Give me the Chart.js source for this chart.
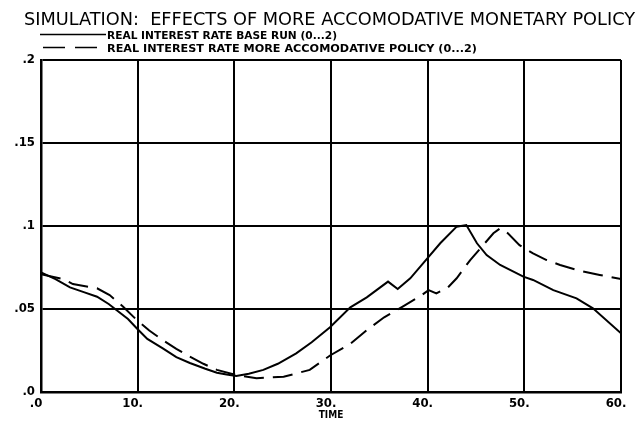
<!DOCTYPE html>
<html>
<head>
<meta charset="utf-8">
<script src="https://cdn.jsdelivr.net/npm/chart.js@4.4.1/dist/chart.umd.min.js"></script>
<style>
  html, body { margin: 0; padding: 0; background: #fff; }
  #wrap { width: 643px; height: 425px; position: relative; }
</style>
</head>
<body>
<div id="wrap"><canvas id="c"></canvas></div>
<script>
// ---- data ----
const chartTitle = 'SIMULATION:  EFFECTS OF MORE ACCOMODATIVE MONETARY POLICY';
const seriesNames = [
  'REAL INTEREST RATE BASE RUN (0...2)',
  'REAL INTEREST RATE MORE ACCOMODATIVE POLICY (0...2)'
];
const xAxisTitle = 'TIME';
const xTickLabels = ['.0', '10.', '20.', '30.', '40.', '50.', '60.'];
const yTickLabels = ['.0', '.05', '.1', '.15', '.2'];

const timeBase = [0, 1.5, 3, 4.5, 5.8, 7, 7.8, 9, 9.9, 11, 12.6, 14, 15.4, 17, 18.2, 19.2, 20.2, 21.5, 23, 24.5, 26.4, 28, 29.9, 32, 33.7, 35.9, 36.9, 38.2, 39.9, 41.3, 43, 44, 45.1, 46.1, 47.5, 49.9, 50.9, 53, 55.4, 57.1, 60];
const rateBase = [0.072, 0.068, 0.063, 0.060, 0.0574, 0.053, 0.0494, 0.044, 0.0384, 0.032, 0.0263, 0.021, 0.0175, 0.014, 0.0116, 0.0105, 0.0096, 0.011, 0.0133, 0.017, 0.0233, 0.030, 0.039, 0.051, 0.057, 0.0665, 0.062, 0.0685, 0.080, 0.0896, 0.0996, 0.1006, 0.0896, 0.0825, 0.0765, 0.0695, 0.0675, 0.0614, 0.0564, 0.0504, 0.0354];

const timeAcc = [0, 2.3, 3.3, 5.8, 7.1, 8.5, 9.9, 11.2, 12.6, 14, 15.4, 16.8, 18.2, 20.2, 22.3, 25.1, 27.8, 29.9, 32, 33.7, 35.5, 37.5, 39.4, 40.1, 40.9, 42.1, 43, 44.4, 45.6, 46.8, 47.5, 48.3, 49.5, 50.9, 52.3, 53.7, 55.7, 57.8, 60];
const rateAcc = [0.071, 0.068, 0.065, 0.0625, 0.0584, 0.0514, 0.0434, 0.037, 0.0313, 0.026, 0.0213, 0.017, 0.0133, 0.0102, 0.0083, 0.0092, 0.0133, 0.022, 0.029, 0.0373, 0.045, 0.0518, 0.0584, 0.0614, 0.0594, 0.063, 0.0685, 0.0795, 0.0875, 0.0956, 0.0986, 0.0956, 0.0885, 0.0835, 0.0795, 0.0765, 0.0731, 0.0705, 0.068];

const toPoints = (xs, ys) => xs.map((x, i) => ({ x: x, y: ys[i] }));

const FONT = '"DejaVu Sans Condensed", "DejaVu Sans", sans-serif';

// draws the title and the vertical legend in the header area
const headerPlugin = {
  id: 'header',
  afterDraw(chart) {
    const ctx = chart.ctx;
    ctx.save();
    ctx.fillStyle = '#000';
    ctx.textBaseline = 'alphabetic';
    ctx.textAlign = 'left';
    // title
    ctx.font = '18px ' + FONT;
    const tw = ctx.measureText(chartTitle).width;
    ctx.save();
    ctx.translate(24, 25);
    ctx.scale(611 / tw, 1);
    ctx.fillText(chartTitle, 0, 0);
    ctx.restore();
    // legend
    ctx.font = 'bold 11px ' + FONT;
    const rows = [
      { y: 34.5, x0: 40, x1: 106, w: 230 },
      { y: 47.5, x0: 43, x1: 99, w: 370 }
    ];
    chart.data.datasets.forEach((ds, i) => {
      const r = rows[i];
      ctx.save();
      ctx.strokeStyle = '#000';
      ctx.lineWidth = 1.6;
      ctx.setLineDash(ds.borderDash ? [22, 10] : []);
      ctx.beginPath();
      ctx.moveTo(r.x0, r.y);
      ctx.lineTo(r.x1, r.y);
      ctx.stroke();
      ctx.restore();
      const lw = ctx.measureText(ds.label).width;
      ctx.save();
      ctx.translate(107, r.y + 4);
      ctx.scale(r.w / lw, 1);
      ctx.fillText(ds.label, 0, 0);
      ctx.restore();
    });
    ctx.restore();
  }
};

new Chart(document.getElementById('c'), {
  type: 'line',
  data: {
    datasets: [
      {
        label: seriesNames[0],
        data: toPoints(timeBase, rateBase),
        borderColor: '#000',
        borderWidth: 2,
        pointRadius: 0,
        fill: false,
        tension: 0
      },
      {
        label: seriesNames[1],
        data: toPoints(timeAcc, rateAcc),
        borderColor: '#000',
        borderWidth: 2,
        borderDash: [20, 9],
        pointRadius: 0,
        fill: false,
        tension: 0
      }
    ]
  },
  options: {
    responsive: true,
    maintainAspectRatio: false,
    animation: false,
    layout: { padding: { top: 60, right: 22, left: 0, bottom: 0 } },
    plugins: {
      legend: { display: false },
      title: { display: false },
      tooltip: { enabled: false }
    },
    scales: {
      x: {
        type: 'linear',
        min: 0,
        max: 60,
        afterFit(scale) { scale.height = 33; },
        afterBuildTicks(scale) {
          scale.ticks = xTickLabels.map((_, i) => ({ value: i * 10 }));
        },
        ticks: {
          color: '#000',
          padding: 4,
          labelOffset: -5,
          maxRotation: 0,
          autoSkip: false,
          font: { family: FONT, size: 13, weight: 'bold' },
          callback: (v, i) => xTickLabels[i]
        },
        grid: { color: '#000', lineWidth: 2, drawTicks: false },
        border: { display: true, color: '#000', width: 2.5 },
        title: {
          display: true,
          text: xAxisTitle,
          color: '#000',
          font: { family: FONT, size: 10, weight: 'bold' },
          padding: { top: 0, bottom: 4 }
        }
      },
      y: {
        type: 'linear',
        min: 0,
        max: 0.2,
        afterFit(scale) { scale.width = 41; },
        afterBuildTicks(scale) {
          scale.ticks = yTickLabels.map((_, i) => ({ value: i * 0.05 }));
        },
        ticks: {
          color: '#000',
          padding: 6,
          autoSkip: false,
          font: { family: FONT, size: 13, weight: 'bold' },
          callback: (v, i) => yTickLabels[i]
        },
        grid: { color: '#000', lineWidth: 2, drawTicks: false },
        border: { display: true, color: '#000', width: 2.5 }
      }
    }
  },
  plugins: [headerPlugin]
});
</script>
</body>
</html>
